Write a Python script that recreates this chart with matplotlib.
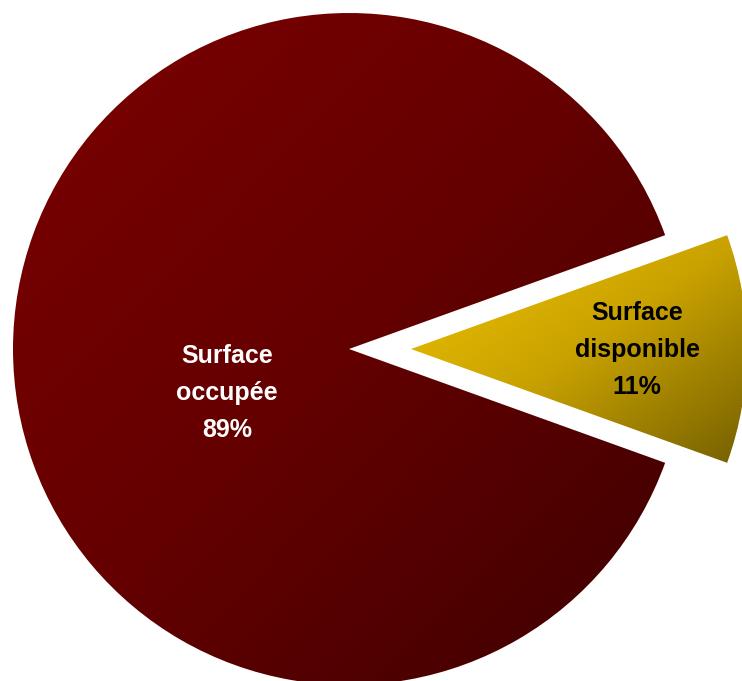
import numpy as np
import matplotlib.pyplot as plt
from matplotlib.colors import LinearSegmentedColormap

# Data
labels = ["Surface\ndisponible", "Surface\noccupée"]
shares = [11, 89]
explode = [62, 0]  # pie() offsets are in data units here

# Gradient colours (top-left -> bottom-right)
grad_colors = [["#f2c400", "#c9a200", "#756000"],
               ["#7c0000", "#640000", "#3e0000"]]
text_colors = ["black", "white"]

fig = plt.figure(figsize=(7.42, 6.81), dpi=100)
ax = fig.add_axes([0, 0, 1, 1])

cx, cy, R = 349, 332, 336
wedges, _ = ax.pie(shares, explode=explode, startangle=-180 * shares[0] / 100,
                   center=(cx, cy), radius=R, frame=True,
                   wedgeprops=dict(facecolor="none", edgecolor="none"))

# Fill each wedge with a diagonal gradient clipped to its shape
n = 300
gx, gy = np.meshgrid(np.linspace(0, 1, n), np.linspace(0, 1, n))
for w, cols in zip(wedges, grad_colors):
    cmap = LinearSegmentedColormap.from_list("g", cols)
    bb = w.get_path().get_extents(w.get_patch_transform())
    img = ax.imshow((gx + gy) / 2, cmap=cmap, origin="upper",
                    extent=[bb.x0, bb.x1, bb.y0, bb.y1], zorder=1,
                    interpolation="bilinear")
    img.set_clip_path(w)

ax.set_xlim(0, 742)
ax.set_ylim(0, 681)
ax.set_aspect("equal")
ax.axis("off")

# Labels
pos = [(637, 331), (227, 288)]
for lab, p, s, c in zip(labels, pos, shares, text_colors):
    ax.text(p[0], p[1], f"{lab}\n{s}%", ha="center", va="center", color=c,
            fontsize=18, fontweight="bold", family="Liberation Sans",
            linespacing=1.68, zorder=3)

fig.savefig("out.png", dpi=100)
